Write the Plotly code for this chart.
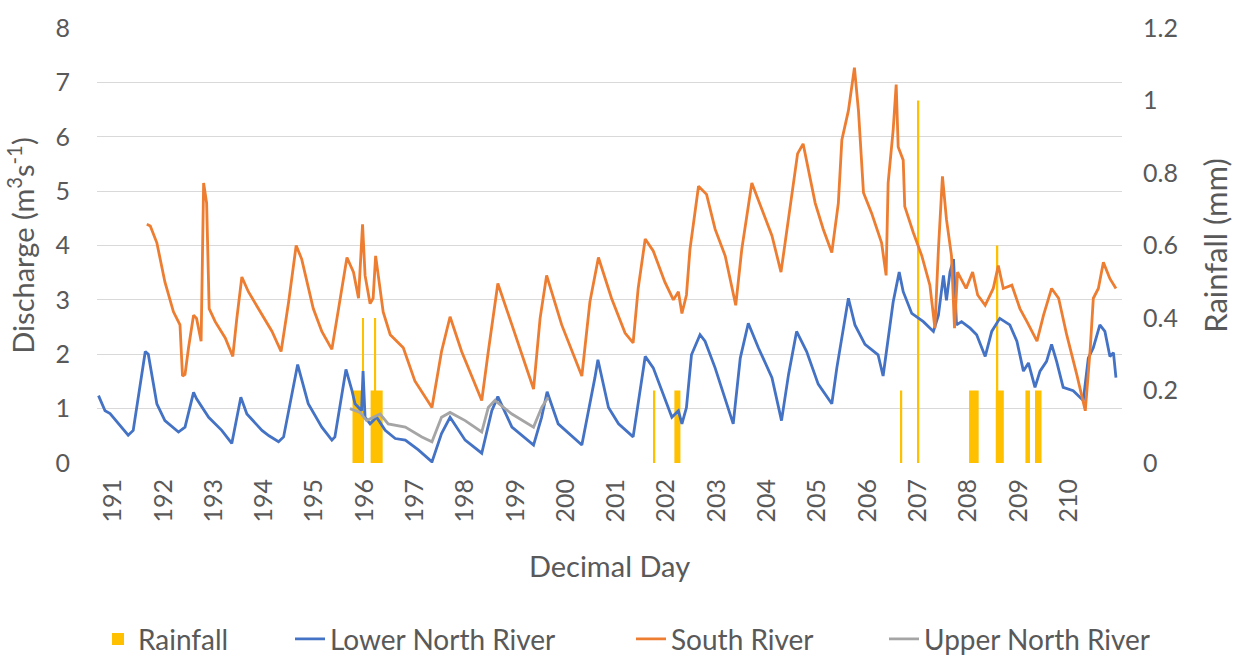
import plotly.graph_objects as go

# ---------------- data ----------------
lower_day = [190.71, 190.84, 190.94, 191.30, 191.40, 191.64, 191.70, 191.87, 192.03, 192.30,
             192.43, 192.60, 192.66, 192.90, 193.16, 193.36, 193.54, 193.66, 193.96, 194.10,
             194.29, 194.39, 194.67, 194.88, 195.15, 195.35, 195.41, 195.63, 195.75, 195.81,
             195.94, 195.97, 196.01, 196.11, 196.24, 196.41, 196.61, 196.81, 197.07, 197.34,
             197.53, 197.70, 198.00, 198.33, 198.53, 198.65, 198.93, 199.36, 199.52, 199.63,
             199.85, 200.32, 200.58, 200.64, 200.85, 201.05, 201.34, 201.58, 201.74, 202.11,
             202.24, 202.31, 202.40, 202.50, 202.67, 202.77, 202.97, 203.33, 203.47, 203.63,
             203.83, 204.10, 204.29, 204.43, 204.59, 204.79, 205.02, 205.29, 205.39, 205.62,
             205.75, 205.95, 206.21, 206.31, 206.51, 206.63, 206.71, 206.88, 207.11, 207.31,
             207.41, 207.51, 207.57, 207.64, 207.71, 207.77, 207.87, 208.04, 208.17, 208.34,
             208.47, 208.63, 208.83, 208.97, 209.10, 209.20, 209.33, 209.43, 209.56, 209.66,
             209.76, 209.89, 210.09, 210.29, 210.39, 210.49, 210.62, 210.72, 210.82, 210.89,
             210.94]
lower_q = [1.24, 0.96, 0.91, 0.51, 0.60, 2.05, 2.00, 1.09, 0.78, 0.57,
           0.66, 1.30, 1.18, 0.84, 0.60, 0.36, 1.21, 0.90, 0.60, 0.50,
           0.39, 0.48, 1.81, 1.09, 0.66, 0.42, 0.48, 1.72, 1.33, 1.09,
           0.96, 1.69, 0.84, 0.72, 0.84, 0.60, 0.45, 0.42, 0.24, 0.02,
           0.54, 0.84, 0.42, 0.18, 0.96, 1.22, 0.66, 0.33, 0.84, 1.31,
           0.72, 0.33, 1.57, 1.90, 1.02, 0.72, 0.48, 1.96, 1.75, 0.84,
           0.96, 0.72, 1.02, 1.99, 2.36, 2.24, 1.75, 0.72, 1.93, 2.57,
           2.12, 1.57, 0.78, 1.63, 2.42, 2.05, 1.45, 1.09, 1.75, 3.03,
           2.54, 2.18, 1.99, 1.60, 2.96, 3.51, 3.15, 2.75, 2.60, 2.42,
           2.72, 3.45, 2.99, 3.51, 3.75, 2.54, 2.60, 2.48, 2.36, 1.96,
           2.42, 2.66, 2.54, 2.24, 1.69, 1.84, 1.39, 1.69, 1.87, 2.18,
           1.87, 1.39, 1.33, 1.15, 1.93, 2.12, 2.54, 2.42, 1.96, 2.03,
           1.57]

south_day = [191.67, 191.74, 191.87, 192.03, 192.20, 192.33, 192.38, 192.43, 192.50, 192.60,
             192.66, 192.75, 192.80, 192.86, 192.91, 193.03, 193.23, 193.38, 193.46, 193.56,
             193.69, 193.96, 194.16, 194.34, 194.49, 194.64, 194.75, 194.98, 195.15, 195.35,
             195.48, 195.65, 195.78, 195.88, 195.96, 196.01, 196.11, 196.17, 196.22, 196.27,
             196.37, 196.51, 196.77, 197.00, 197.34, 197.53, 197.70, 197.93, 198.33, 198.46,
             198.65, 198.93, 199.36, 199.49, 199.62, 199.92, 200.32, 200.48, 200.65, 200.91,
             201.18, 201.34, 201.44, 201.58, 201.74, 201.97, 202.14, 202.24, 202.31, 202.40,
             202.47, 202.64, 202.80, 202.97, 203.17, 203.38, 203.50, 203.70, 203.90, 204.10,
             204.28, 204.43, 204.61, 204.72, 204.82, 204.96, 205.12, 205.29, 205.42, 205.49,
             205.62, 205.74, 205.82, 205.92, 206.08, 206.28, 206.37, 206.41, 206.51, 206.57,
             206.61, 206.71, 206.74, 206.91, 207.08, 207.24, 207.34, 207.41, 207.49, 207.57,
             207.67, 207.73, 207.79, 207.96, 208.09, 208.19, 208.34, 208.50, 208.60, 208.70,
             208.87, 209.03, 209.17, 209.37, 209.50, 209.66, 209.80, 209.96, 210.16, 210.33,
             210.43, 210.49, 210.59, 210.69, 210.82, 210.94]
south_q = [4.39, 4.36, 4.05, 3.33, 2.78, 2.54, 1.60, 1.63, 2.12, 2.72,
           2.66, 2.24, 5.15, 4.78, 2.84, 2.60, 2.30, 1.96, 2.66, 3.42,
           3.15, 2.72, 2.42, 2.05, 2.96, 4.00, 3.75, 2.84, 2.42, 2.09,
           2.84, 3.78, 3.51, 3.03, 4.39, 3.45, 2.93, 3.03, 3.81, 3.45,
           2.78, 2.36, 2.12, 1.51, 1.02, 2.05, 2.69, 2.05, 1.15, 2.05,
           3.30, 2.54, 1.36, 2.66, 3.45, 2.54, 1.60, 2.96, 3.78, 3.03,
           2.39, 2.21, 3.21, 4.12, 3.90, 3.33, 3.00, 3.15, 2.75, 3.09,
           3.93, 5.09, 4.94, 4.30, 3.81, 2.90, 3.93, 5.15, 4.66, 4.18,
           3.51, 4.54, 5.69, 5.87, 5.39, 4.78, 4.30, 3.87, 4.78, 5.94,
           6.48, 7.27, 6.48, 4.97, 4.60, 4.05, 3.45, 5.15, 6.12, 6.96,
           5.81, 5.57, 4.72, 4.24, 3.81, 3.27, 2.48, 3.93, 5.27, 4.48,
           3.81, 2.48, 3.51, 3.21, 3.51, 3.09, 2.90, 3.21, 3.63, 3.21,
           3.27, 2.84, 2.60, 2.24, 2.72, 3.21, 3.03, 2.36, 1.63, 0.96,
           2.12, 3.03, 3.21, 3.69, 3.39, 3.21]

upper_day = [195.71, 195.91, 196.04, 196.31, 196.47, 196.81, 197.14, 197.34, 197.53, 197.70,
             198.00, 198.33, 198.46, 198.59, 198.93, 199.36, 199.52, 199.65]
upper_q = [1.00, 0.93, 0.78, 0.90, 0.72, 0.66, 0.48, 0.39, 0.84, 0.93,
           0.78, 0.57, 1.02, 1.15, 0.90, 0.66, 1.02, 1.21]

rain_start = [195.76, 195.95, 196.12, 196.20, 201.75, 202.16, 206.66, 207.00, 208.02, 208.55, 208.57, 209.14, 209.33]
rain_end = [195.97, 195.98, 196.36, 196.23, 201.78, 202.28, 206.69, 207.03, 208.21, 208.71, 208.60, 209.23, 209.46]
rain_mm = [0.2, 0.4, 0.2, 0.4, 0.2, 0.2, 0.2, 1.0, 0.2, 0.2, 0.6, 0.2, 0.2]

day_ticks = list(range(191, 211))
q_ticks = [0, 1, 2, 3, 4, 5, 6, 7, 8]
rain_ticks = [0, 0.2, 0.4, 0.6, 0.8, 1.0, 1.2]
rain_tick_text = ["0", "0.2", "0.4", "0.6", "0.8", "1", "1.2"]

# ---------------- figure ----------------
W, H = 1243, 659
rain_x = [(s + e) / 2 for s, e in zip(rain_start, rain_end)]
rain_w = [max(e - s, 0.03) for s, e in zip(rain_start, rain_end)]

TXT = "#595959"
FAM = "Lato"


def fnt(size):
    return dict(family=FAM, size=size, color=TXT)


fig = go.Figure()
fig.add_trace(go.Bar(x=rain_x, y=rain_mm, width=rain_w, name="Rainfall",
                     marker=dict(color="#FFC000", line=dict(width=0)), yaxis="y",
                     legend="legend"))
fig.add_trace(go.Scatter(x=lower_day, y=lower_q, name="Lower North River", mode="lines",
                         line=dict(color="#4472C4", width=2.8), yaxis="y2", legend="legend2"))
fig.add_trace(go.Scatter(x=south_day, y=south_q, name="South River", mode="lines",
                         line=dict(color="#ED7D31", width=2.8), yaxis="y2", legend="legend3"))
fig.add_trace(go.Scatter(x=upper_day, y=upper_q, name="Upper North River", mode="lines",
                         line=dict(color="#A5A5A5", width=2.8), yaxis="y2", legend="legend4"))


def leg(px_left):
    return dict(orientation="h", xref="container", yref="container",
                x=px_left / W, y=0.03, xanchor="left", yanchor="middle",
                bgcolor="rgba(0,0,0,0)", font=fnt(28))


fig.update_layout(
    width=W, height=H,
    margin=dict(l=97, r=121, t=24, b=196),
    plot_bgcolor="white", paper_bgcolor="white",
    font=fnt(25),
    barmode="overlay",
    showlegend=True,
    xaxis=dict(range=[190.68, 211.06], tickvals=day_ticks, tickangle=-90,
               showgrid=False, zeroline=False, showline=False, ticks="",
               ticklabelstandoff=10, tickfont=fnt(25),
               title=dict(text="Decimal Day", standoff=35, font=fnt(29))),
    yaxis=dict(side="right", range=[0, 1.2], tickvals=rain_ticks, ticktext=rain_tick_text,
               showgrid=False, zeroline=False, ticks="", ticklabelstandoff=20,
               tickfont=fnt(25),
               title=dict(text="Rainfall (mm)", standoff=28, font=fnt(31))),
    yaxis2=dict(side="left", overlaying="y", range=[0, 8], tickvals=q_ticks,
                showgrid=True, gridcolor="#D9D9D9", gridwidth=1.3, zeroline=False,
                ticks="", ticklabelstandoff=26, tickfont=fnt(25),
                title=dict(text="Discharge (m<sup>3</sup>s<sup>-1</sup>)", standoff=12,
                           font=fnt(29))),
    legend=leg(98),
    legend2=leg(290),
    legend3=leg(631),
    legend4=leg(884),
)

fig.write_html("out.html")
